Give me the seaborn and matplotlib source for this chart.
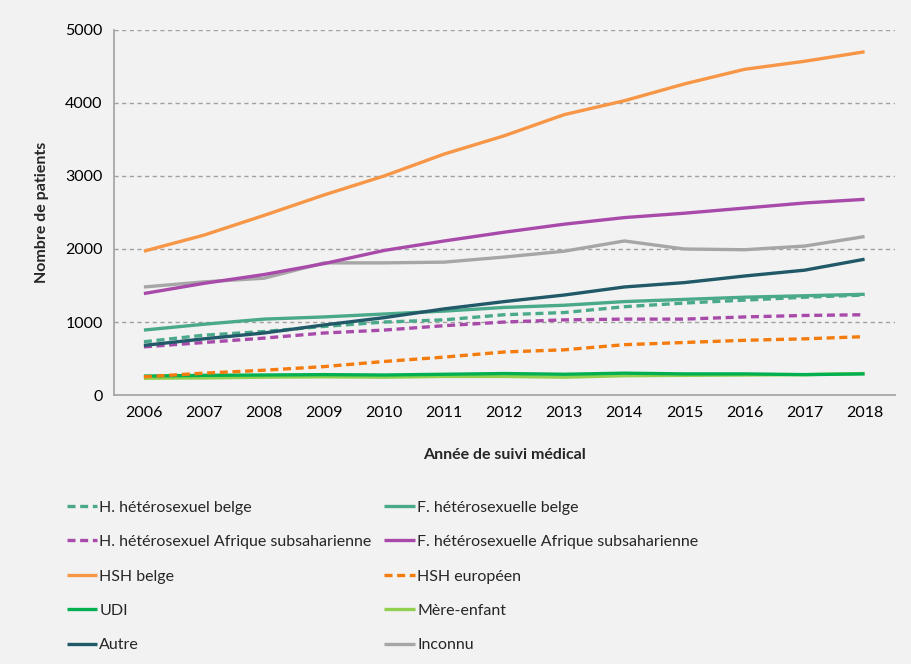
"""
Nombre de patients en suivi médical par groupe, 2006-2018.
"""

import numpy as np
import pandas as pd
import matplotlib
matplotlib.use('Agg')
import matplotlib.pyplot as plt
import seaborn as sns

years = list(range(2006, 2019))

h_hetero_belge = [730, 820, 870, 940, 1000, 1030, 1100, 1130, 1210, 1260, 1300, 1340, 1370]
f_hetero_belge = [890, 970, 1040, 1070, 1110, 1150, 1200, 1230, 1280, 1310, 1340, 1360, 1380]
h_hetero_afrique = [660, 720, 780, 850, 890, 950, 1000, 1030, 1040, 1040, 1070, 1090, 1100]
f_hetero_afrique = [1390, 1530, 1650, 1800, 1980, 2110, 2230, 2340, 2430, 2490, 2560, 2630, 2680]
hsh_belge = [1970, 2190, 2460, 2740, 3000, 3300, 3550, 3840, 4030, 4260, 4460, 4570, 4700]
hsh_europeen = [250, 300, 340, 390, 460, 520, 590, 620, 690, 720, 750, 770, 800]
udi = [260, 270, 275, 280, 275, 285, 295, 285, 300, 290, 290, 280, 290]
mere_enfant = [230, 235, 245, 250, 245, 255, 255, 245, 265, 270, 275, 280, 295]
autre = [680, 770, 850, 960, 1060, 1180, 1280, 1370, 1480, 1540, 1630, 1710, 1860]
inconnu = [1480, 1550, 1600, 1810, 1810, 1820, 1890, 1970, 2110, 2000, 1990, 2040, 2170]

y_ticks = [0, 1000, 2000, 3000, 4000, 5000]

# (label, values, colour, dashed) - legend order is column by column
series = [
    ('H. hétérosexuel belge', h_hetero_belge, '#4aa98a', True),
    ('H. hétérosexuel Afrique subsaharienne', h_hetero_afrique, '#a84aaa', True),
    ('HSH belge', hsh_belge, '#f79646', False),
    ('UDI', udi, '#00b050', False),
    ('Autre', autre, '#215968', False),
    ('F. hétérosexuelle belge', f_hetero_belge, '#4aa98a', False),
    ('F. hétérosexuelle Afrique subsaharienne', f_hetero_afrique, '#a84aaa', False),
    ('HSH européen', hsh_europeen, '#f47b0e', True),
    ('Mère-enfant', mere_enfant, '#92d050', False),
    ('Inconnu', inconnu, '#a6a6a6', False),
]

# draw order: low lines first so the top ones sit above
draw_order = [8, 3, 7, 1, 0, 5, 4, 9, 6, 2]

sns.set_theme(style='white')
plt.rcParams['font.family'] = ['Lato', 'DejaVu Sans']
fs = 11.5

bg = '#f2f2f2'
fig = plt.figure(figsize=(9.11, 6.64), dpi=100, facecolor=bg)
ax = fig.add_axes([0.125, 0.405, 0.857, 0.55])
ax.set_facecolor(bg)

handles = {}
for i in draw_order:
    label, vals, color, dashed = series[i]
    df = pd.DataFrame({'year': years, 'value': vals})
    sns.lineplot(data=df, x='year', y='value', ax=ax, color=color,
                 linewidth=2.4, label=label)
    line = ax.get_lines()[-1]
    if dashed:
        line.set_linestyle((0, (2.4, 1.4)))
    line.set_solid_capstyle('butt')
    handles[i] = line

ax.set_xlim(2005.5, 2018.5)
ax.set_ylim(0, 5000)
ax.set_xticks(years)
ax.set_xticklabels([str(y) for y in years], fontsize=fs)
ax.set_yticks(y_ticks)
ax.set_yticklabels([str(v) for v in y_ticks], fontsize=fs)
ax.tick_params(axis='both', length=0, pad=8, colors='#000000')

for v in y_ticks[1:]:
    ax.axhline(v, color='#a0a0a0', linewidth=1.0, linestyle=(0, (3, 2.5)), zorder=0)

for side in ['top', 'right']:
    ax.spines[side].set_visible(False)
for side in ['left', 'bottom']:
    ax.spines[side].set_color('#a6a6a6')
    ax.spines[side].set_linewidth(1.3)

ax.set_xlabel('Année de suivi médical', fontsize=fs, fontweight='bold', labelpad=20)
ax.set_ylabel('Nombre de patients', fontsize=fs, fontweight='bold', labelpad=12)

ax.get_legend().remove()
order = list(range(10))
fig.legend([handles[i] for i in order], [series[i][0] for i in order],
           ncol=2, frameon=False, loc='upper left', bbox_to_anchor=(0.066, 0.256),
           fontsize=fs, handlelength=1.9, handletextpad=0.15,
           columnspacing=0.8, labelspacing=1.27, borderaxespad=0)

fig.savefig('out.png', dpi=100, facecolor=bg)
